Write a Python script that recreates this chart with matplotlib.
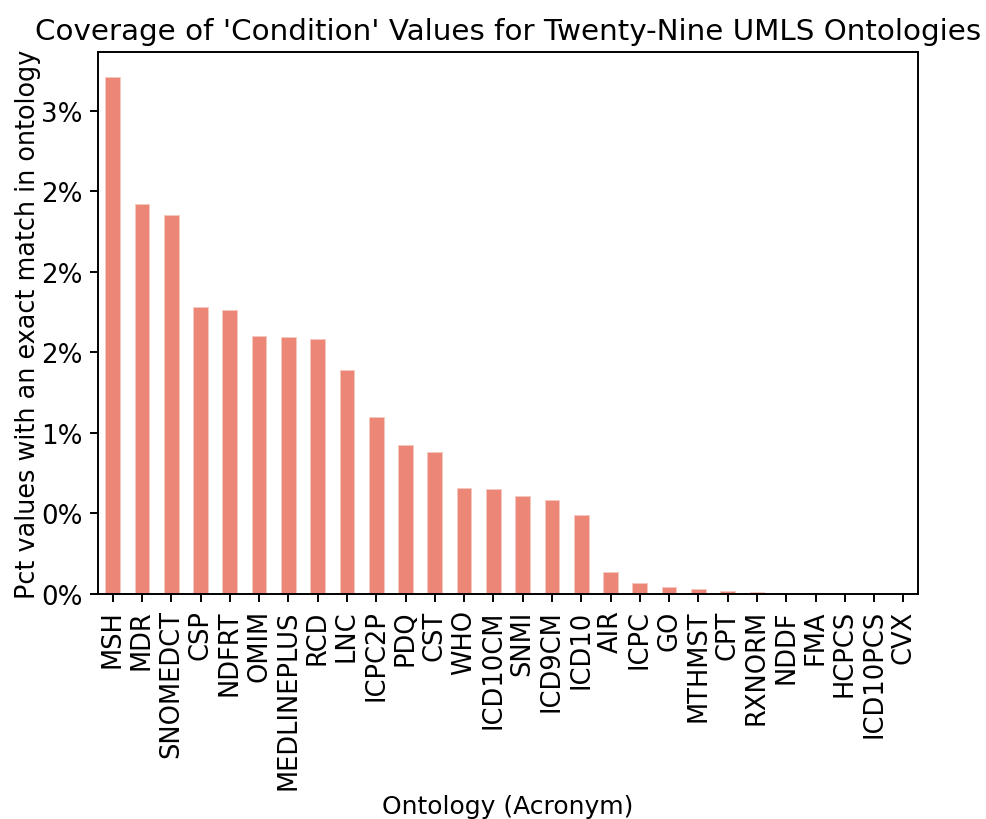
import numpy as np
import matplotlib
matplotlib.use("Agg")
import matplotlib.pyplot as plt
from matplotlib.ticker import FuncFormatter

# Ontology acronyms and pct of 'Condition' values with an exact match
ontologies = ['MSH', 'MDR', 'SNOMEDCT', 'CSP', 'NDFRT', 'OMIM', 'MEDLINEPLUS', 'RCD',
              'LNC', 'ICPC2P', 'PDQ', 'CST', 'WHO', 'ICD10CM', 'SNMI', 'ICD9CM',
              'ICD10', 'AIR', 'ICPC', 'GO', 'MTHMST', 'CPT', 'RXNORM', 'NDDF',
              'FMA', 'HCPCS', 'ICD10PCS', 'CVX']
pct_match = [3.21, 2.42, 2.35, 1.78, 1.76, 1.60, 1.595, 1.58,
             1.39, 1.10, 0.925, 0.88, 0.66, 0.65, 0.61, 0.585,
             0.49, 0.135, 0.068, 0.045, 0.03, 0.02, 0.014, 0.008,
             0.003, 0.002, 0.001, 0.001]

fig = plt.figure(figsize=(9.87, 8.2), dpi=100)
ax = fig.add_axes([98 / 987, 1 - 595 / 820, 820 / 987, 542 / 820])

x = np.arange(len(ontologies))
ax.bar(x, pct_match, 0.5, color='#ec8777', edgecolor='#f6c9bf', linewidth=0.6)
ax.set_xlim(-0.5, len(ontologies) - 0.5)
ax.set_ylim(0, max(pct_match) * 1.048)
ax.set_xticks(x)
ax.set_xticklabels(ontologies, rotation=90, fontsize=18.5)
ax.set_yticks([0, 0.5, 1.0, 1.5, 2.0, 2.5, 3.0])
ax.yaxis.set_major_formatter(FuncFormatter(lambda v, p: '{:.0f}%'.format(v)))
ax.tick_params(axis='y', labelsize=18.8)
ax.tick_params(length=6, width=1.4, pad=5)
for s in ax.spines.values():
    s.set_linewidth(1.4)

ax.set_ylabel('Pct values with an exact match in ontology', fontsize=18.4, labelpad=0)
ax.set_xlabel('Ontology (Acronym)', fontsize=18, labelpad=4)
ax.set_title("Coverage of 'Condition' Values for Twenty-Nine UMLS Ontologies", fontsize=21.2, pad=9)

plt.savefig('out.png')
